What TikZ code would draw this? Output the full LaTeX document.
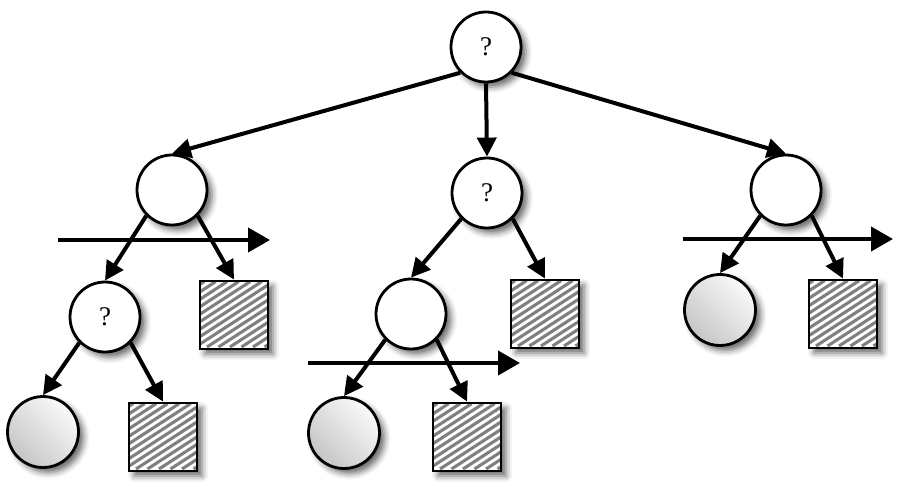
\documentclass[tikz,border=0pt]{standalone}
\usepackage{fontspec}
\setmainfont{Liberation Serif}
\usetikzlibrary{arrows.meta,shadows.blur}
\tikzset{
  shad/.style={blur shadow={shadow xshift=5pt,shadow yshift=-5pt,shadow blur radius=6pt,shadow opacity=60}},
  qnode/.style={circle,shad,draw=black,line width=2.8pt,fill=white,minimum size=70pt,inner sep=0pt,font=\fontsize{27}{27}\selectfont},
  leafc/.style={circle,shad,draw=black,line width=2.8pt,top color=gray!4,bottom color=gray!45,shading angle=-45,minimum size=71pt,inner sep=0pt},
  leafs/.style={rectangle,shad,fill=white,draw=black,line width=2.8pt,minimum size=68pt,inner sep=0pt,
    path picture={\foreach \k in {-10,...,10}
      \draw[line width=3.1pt,black!50] ([xshift=\k*11.5pt-50pt,yshift=-32pt]path picture bounding box.center) -- ++(33:120pt);}},
  arr/.style={line width=4pt,-{Triangle[length=19pt,width=19pt]}},
  harr/.style={line width=4pt,-{Triangle[length=22pt,width=24pt]}}
}
\begin{document}
\begin{tikzpicture}[x=1pt,y=-1pt]
\useasboundingbox (0,0) rectangle (899,494);
% nodes
\node[qnode] (root) at (486,47) {?};
\node[qnode] (a) at (172,190) {};
\node[qnode] (b) at (487,193) {?};
\node[qnode] (c) at (786,190) {};
\node[qnode] (aq) at (105,317) {?};
\node[leafs] (as) at (234,315) {};
\node[leafc] (aql) at (43,432) {};
\node[leafs] (aqs) at (163,437) {};
\node[qnode] (bl) at (411,314) {};
\node[leafs] (bs) at (545,314) {};
\node[leafc] (bll) at (344,433) {};
\node[leafs] (bls) at (467,437) {};
\node[leafc] (cl) at (720,310) {};
\node[leafs] (cs) at (843,314) {};
% tree arrows
\draw[arr] (root.south west) -- (a.north);
\draw[arr] (root.south) -- (b.north);
\draw[arr] (root.south east) -- (c.north);
\draw[arr] (a.south west) -- (aq.north);
\draw[arr] (a.south east) -- (as.north);
\draw[arr] (aq.south west) -- (aql.north);
\draw[arr] (aq.south east) -- (aqs.north);
\draw[arr] (b.south west) -- (bl.north);
\draw[arr] (b.south east) -- (bs.north);
\draw[arr] (bl.south west) -- (bll.north);
\draw[arr] (bl.south east) -- (bls.north);
\draw[arr] (c.south west) -- (cl.north);
\draw[arr] (c.south east) -- (cs.north);
% horizontal arrows
\coordinate (h1s) at (58,240); \coordinate (h1e) at (270,240);
\coordinate (h2s) at (308,363); \coordinate (h2e) at (520,363);
\coordinate (h3s) at (683,239); \coordinate (h3e) at (893,239);
\draw[harr] (h1s) -- (h1e);
\draw[harr] (h2s) -- (h2e);
\draw[harr] (h3s) -- (h3e);
\end{tikzpicture}
\end{document}
